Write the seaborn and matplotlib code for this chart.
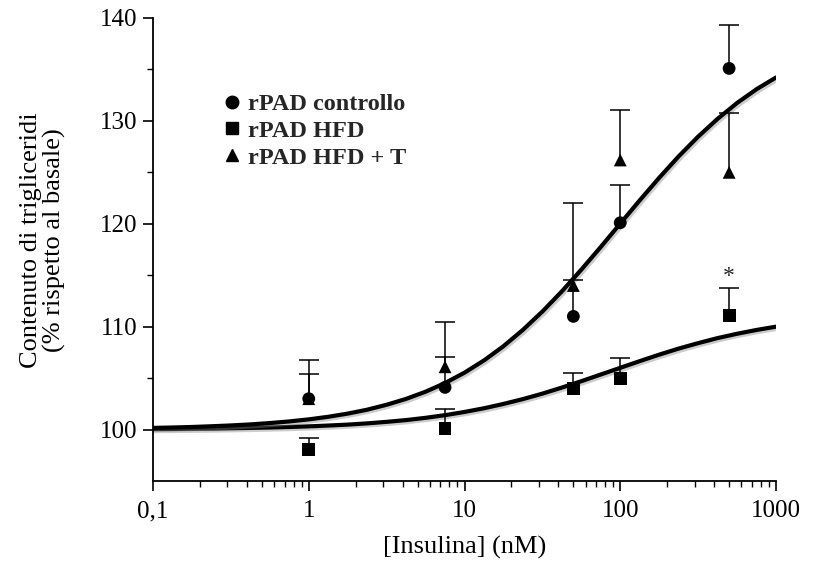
import numpy as np
import pandas as pd
import matplotlib
matplotlib.use("Agg")
import matplotlib.pyplot as plt
import matplotlib.patheffects as pe
from matplotlib.lines import Line2D
from matplotlib.ticker import FixedLocator, FixedFormatter, NullFormatter
import seaborn as sns

# ---- data ----
insulin_nM = [1, 7.5, 50, 100, 500]

ctrl_mean = [103.0, 104.1, 111.0, 120.1, 135.1]
ctrl_err = [2.4, 3.0, 3.5, 3.7, 4.2]

hfd_mean = [98.1, 100.1, 104.0, 105.0, 111.1]
hfd_err = [1.1, 1.9, 1.5, 2.0, 2.7]

hfdt_mean = [103.0, 106.1, 114.0, 126.2, 125.0]
hfdt_err = [3.8, 4.4, 8.0, 4.9, 5.8]

# fitted curves (eighth-decade samples)
curve_x = [0.1, 0.1334, 0.1778, 0.2371, 0.3162, 0.4217, 0.5623, 0.7499,
           1, 1.334, 1.778, 2.371, 3.162, 4.217, 5.623, 7.499,
           10, 13.34, 17.78, 23.71, 31.62, 42.17, 56.23, 74.99,
           100, 133.4, 177.8, 237.1, 316.2, 421.7, 562.3, 749.9, 1000]
curve_upper = [100.16, 100.20, 100.25, 100.32, 100.40, 100.50, 100.63, 100.79,
               100.99, 101.24, 101.55, 101.93, 102.41, 102.98, 103.68, 104.52,
               105.53, 106.72, 108.10, 109.69, 111.47, 113.43, 115.54, 117.75,
               120.02, 122.28, 124.47, 126.55, 128.47, 130.20, 131.74, 133.08,
               134.22]
curve_lower = [100.05, 100.06, 100.08, 100.10, 100.13, 100.16, 100.20, 100.25,
               100.31, 100.39, 100.48, 100.60, 100.75, 100.92, 101.14, 101.40,
               101.71, 102.07, 102.49, 102.96, 103.49, 104.08, 104.70, 105.35,
               106.00, 106.65, 107.28, 107.87, 108.40, 108.89, 109.31, 109.68,
               110.00]

series_labels = ["rPAD controllo", "rPAD HFD", "rPAD HFD + T"]
x_ticks = [0.1, 1, 10, 100, 1000]
x_tick_labels = ["0,1", "1", "10", "100", "1000"]
y_ticks = [100, 110, 120, 130, 140]
y_minor = [105, 115, 125, 135]
star_pos = (500, 114.9)

# ---- figure ----
sns.set_style("ticks")
plt.rcParams["font.family"] = ["Liberation Serif", "DejaVu Serif"]

fig = plt.figure(figsize=(8.15, 5.63), dpi=100)
ax = fig.add_axes([153 / 815, 1 - 481 / 563, (776 - 153) / 815, (481 - 18) / 563])

curves = pd.DataFrame({
    "x": curve_x * 2,
    "y": curve_upper + curve_lower,
    "fit": ["upper"] * len(curve_x) + ["lower"] * len(curve_x),
})
shadow = [pe.SimpleLineShadow(offset=(1.2, -1.5), shadow_color="gray", alpha=0.4),
          pe.Normal()]
sns.lineplot(data=curves, x="x", y="y", units="fit", estimator=None,
             color="black", linewidth=3.0, ax=ax, sort=False,
             path_effects=shadow, zorder=2)

# upward-only error bars: stem + cap
for means, errs in [(hfdt_mean, hfdt_err), (ctrl_mean, ctrl_err), (hfd_mean, hfd_err)]:
    tops = np.array(means) + np.array(errs)
    ax.vlines(insulin_nM, means, tops, colors="black", linewidth=1.1, zorder=3)
    ax.scatter(insulin_nM, tops, marker="_", s=210, color="black",
               linewidths=1.1, zorder=3)

pts = pd.DataFrame({
    "x": insulin_nM * 3,
    "y": hfdt_mean + ctrl_mean + hfd_mean,
    "grp": [series_labels[2]] * 5 + [series_labels[0]] * 5 + [series_labels[1]] * 5,
})
sns.scatterplot(data=pts, x="x", y="y", style="grp",
                markers={series_labels[0]: "o", series_labels[1]: "s",
                         series_labels[2]: "^"},
                color="black", s=85, edgecolor="black", linewidth=0,
                legend=False, ax=ax, zorder=4)

ax.text(star_pos[0], star_pos[1], "*", ha="center", va="center", fontsize=17)

ax.set_xscale("log")
ax.set_xlim(0.1, 1000)
ax.set_ylim(95, 140)
ax.xaxis.set_major_locator(FixedLocator(x_ticks))
ax.xaxis.set_major_formatter(FixedFormatter(x_tick_labels))
ax.xaxis.set_minor_formatter(NullFormatter())
ax.yaxis.set_major_locator(FixedLocator(y_ticks))
ax.yaxis.set_minor_locator(FixedLocator(y_minor))

ax.tick_params(axis="both", which="major", direction="out", length=7, width=1.2,
               color="black", labelsize=18, labelcolor="black")
ax.tick_params(axis="both", which="minor", direction="out", length=4, width=1.0,
               color="black")
ax.tick_params(axis="x", pad=7)
ax.tick_params(axis="y", pad=4)

for side in ["top", "right"]:
    ax.spines[side].set_visible(False)
for side in ["left", "bottom"]:
    ax.spines[side].set_color("black")
    ax.spines[side].set_linewidth(1.3)

ax.set_xlabel("[Insulina] (nM)", fontsize=19, color="black", va="center")
ax.xaxis.set_label_coords(0.5, -(547 - 481) / 463)
ax.set_ylabel("Contenuto di trigliceridi\n(% rispetto al basale)", fontsize=19,
              color="black", linespacing=1.05, va="center")
ax.yaxis.set_label_coords(-(153 - 43) / 623, (481 - 240) / 463)

handles = [Line2D([], [], marker=m, color="black", linestyle="none", markersize=9)
           for m in ["o", "s", "^"]]
leg = ax.legend(handles, series_labels, loc="upper left",
                bbox_to_anchor=(220 / 815, 1 - 93 / 563),
                bbox_transform=fig.transFigure, frameon=False,
                handletextpad=0.15, handlelength=1.0, labelspacing=0.2,
                prop={"weight": "bold", "size": 17.5, "family": "Liberation Serif"},
                borderaxespad=0, borderpad=0)

fig.savefig("out.png", dpi=100)
